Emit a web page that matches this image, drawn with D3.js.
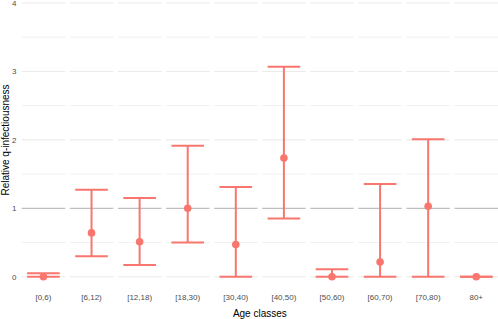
<!DOCTYPE html>
<html>
<head>
<meta charset="utf-8">
<script src="https://cdn.jsdelivr.net/npm/d3@7"></script>
<style>
  body { margin: 0; background: #fff; }
  text { font-family: "Liberation Sans", Arial, sans-serif; }
</style>
</head>
<body>
<div id="chart"></div>
<script>
// age classes and relative q-infectiousness estimates with intervals
const ageClasses = ["[0,6)", "[6,12)", "[12,18)", "[18,30)", "[30,40)", "[40,50)", "[50,60)", "[60,70)", "[70,80)", "80+"];
const estimate = [0, 0.64, 0.51, 1.0, 0.47, 1.735, 0, 0.215, 1.03, 0];
const lower    = [0, 0.30, 0.17, 0.50, 0, 0.85, 0, 0, 0, 0];
const upper    = [0.05, 1.27, 1.15, 1.915, 1.31, 3.07, 0.11, 1.355, 2.01, 0];
const yTicks = [0, 1, 2, 3, 4];
const yMinor = [0.5, 1.5, 2.5, 3.5];

const data = ageClasses.map((k, i) => ({ key: k, est: estimate[i], lo: lower[i], hi: upper[i] }));

const width = 498, height = 319;
const red = "#F8766D";

const svg = d3.select("#chart").append("svg")
    .attr("width", width)
    .attr("height", height);

// one panel per age class, like facets
const x0 = d3.scaleBand()
    .domain(ageClasses)
    .range([21.7, 498])
    .paddingInner(0.096)
    .paddingOuter(0);

// inside a panel: discrete position 1 with 0.6 expansion
const x1 = d3.scaleLinear().domain([0.4, 1.6]).range([0, x0.bandwidth()]);

const y = d3.scaleLinear().domain([0, 4]).range([276.7, 3]);

const panel = svg.selectAll(".panel")
    .data(data)
    .join("g")
    .attr("class", "panel")
    .attr("transform", d => `translate(${x0(d.key)},0)`);

// grid
panel.selectAll(".minor")
    .data(yMinor)
    .join("line")
    .attr("x1", 0).attr("x2", x0.bandwidth())
    .attr("y1", d => y(d)).attr("y2", d => y(d))
    .attr("stroke", "#F1F1F1")
    .attr("stroke-width", 1);

panel.selectAll(".major")
    .data(yTicks)
    .join("line")
    .attr("x1", 0).attr("x2", x0.bandwidth())
    .attr("y1", d => y(d)).attr("y2", d => y(d))
    .attr("stroke", d => d === 1 ? "#BEBEBE" : "#EBEBEB")
    .attr("stroke-width", d => d === 1 ? 1.2 : 1.1);

// error bars
panel.append("line")
    .attr("x1", x1(1)).attr("x2", x1(1))
    .attr("y1", d => y(d.lo)).attr("y2", d => y(d.hi))
    .attr("stroke", red).attr("stroke-width", 2);

panel.selectAll(".cap")
    .data(d => [d.lo, d.hi])
    .join("line")
    .attr("x1", x1(0.55)).attr("x2", x1(1.45))
    .attr("y1", d => y(d)).attr("y2", d => y(d))
    .attr("stroke", red).attr("stroke-width", 2);

panel.append("circle")
    .attr("cx", x1(1))
    .attr("cy", d => y(d.est))
    .attr("r", 3.8)
    .attr("fill", red);

// x labels
panel.append("text")
    .attr("x", x1(1))
    .attr("y", 300)
    .attr("text-anchor", "middle")
    .attr("font-size", 8)
    .attr("fill", "#4D4D4D")
    .text(d => d.key);

// y axis labels
svg.selectAll(".ytick")
    .data(yTicks)
    .join("text")
    .attr("x", 16.5)
    .attr("y", d => y(d))
    .attr("dy", "0.35em")
    .attr("text-anchor", "end")
    .attr("font-size", 8)
    .attr("fill", "#4D4D4D")
    .text(d => d);

// axis titles
svg.append("text")
    .attr("x", (21.7 + 498) / 2)
    .attr("y", 317)
    .attr("text-anchor", "middle")
    .attr("font-size", 10)
    .attr("fill", "#000")
    .text("Age classes");

svg.append("text")
    .attr("transform", "translate(8.8,140) rotate(-90)")
    .attr("text-anchor", "middle")
    .attr("font-size", 10)
    .attr("fill", "#000")
    .text("Relative q-infectiousness");
</script>
</body>
</html>
